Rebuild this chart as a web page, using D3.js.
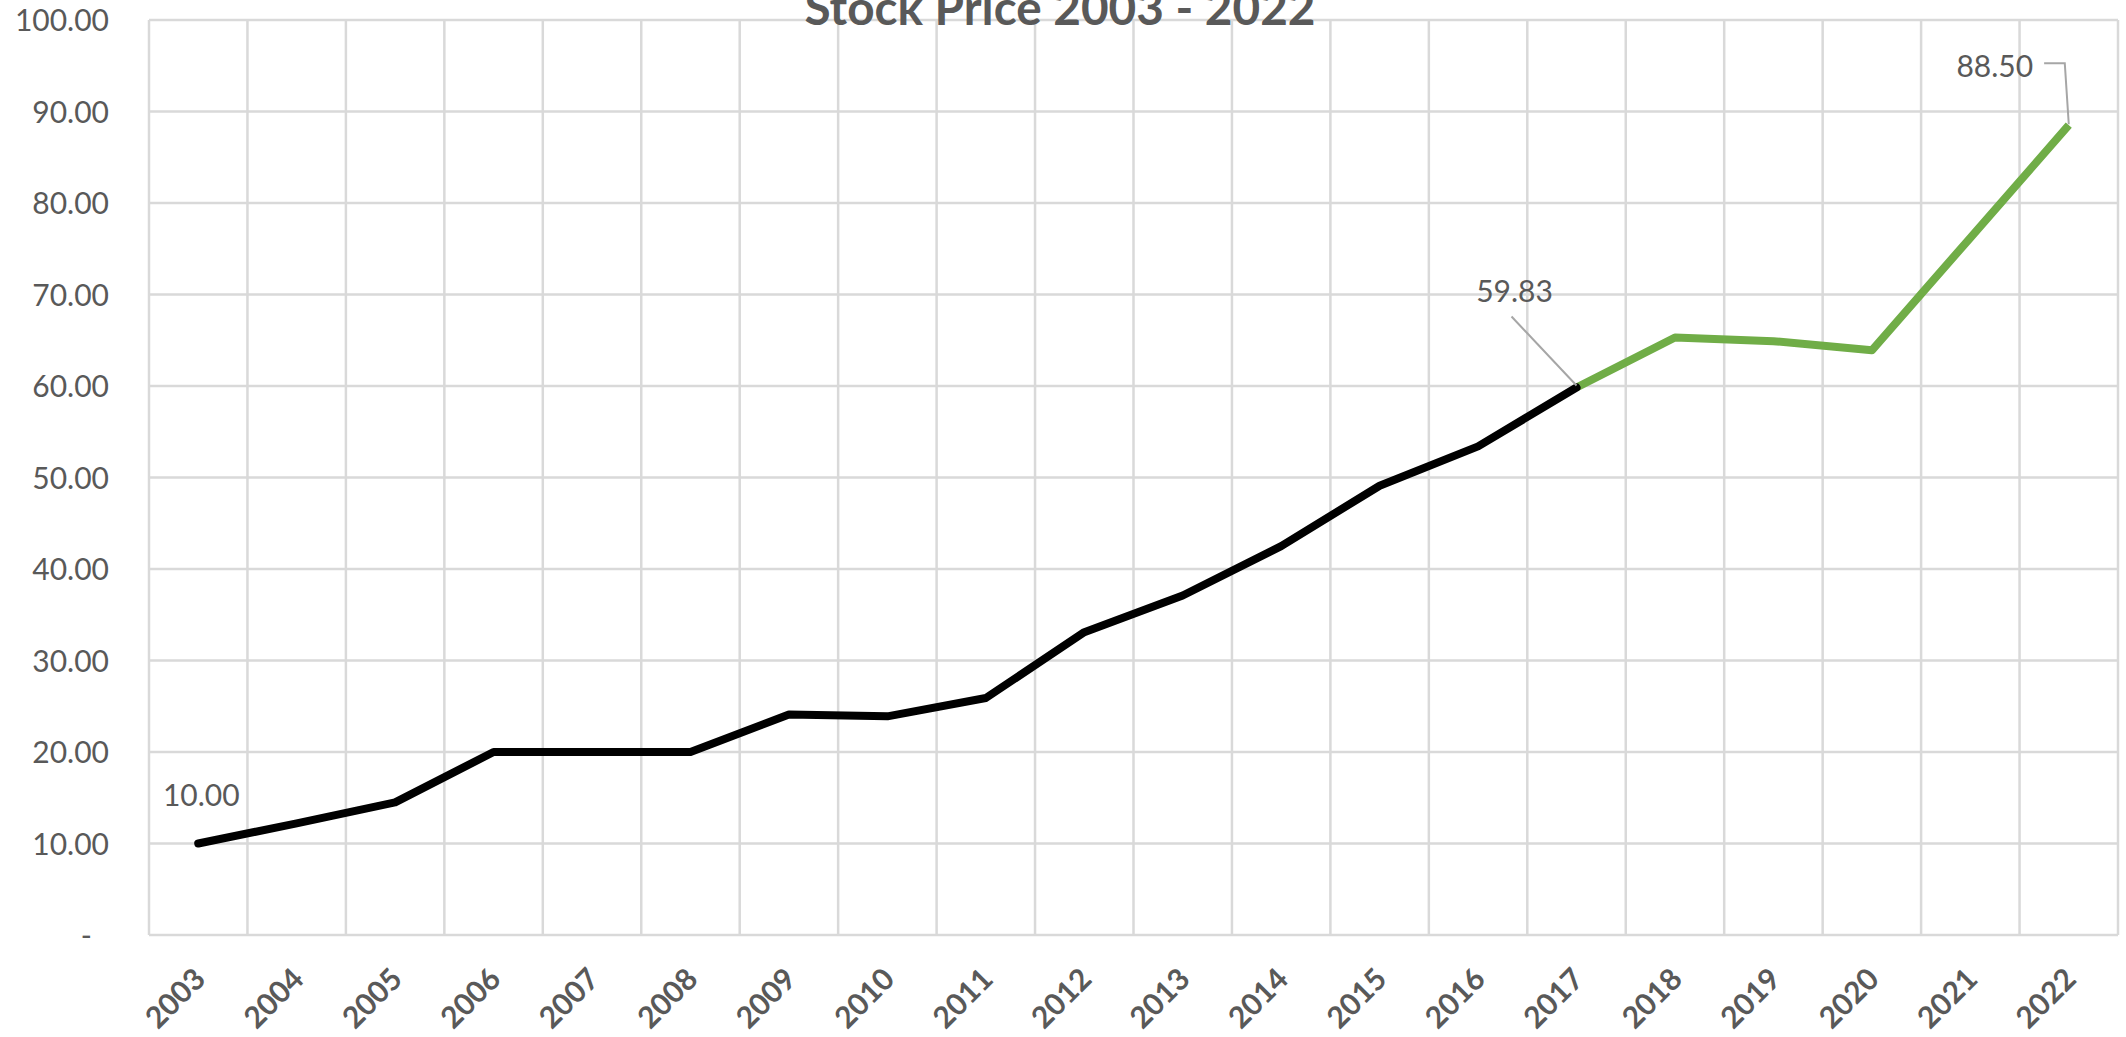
<!DOCTYPE html>
<html>
<head>
<meta charset="utf-8">
<script src="https://cdn.jsdelivr.net/npm/d3@7"></script>
<style>
  html, body { margin: 0; padding: 0; background: #ffffff; overflow: hidden; }
  svg { display: block; }
</style>
</head>
<body>
<svg id="chart" width="2126" height="1037"></svg>
<script>
// ---------------- data ----------------
const years  = [2003, 2004, 2005, 2006, 2007, 2008, 2009, 2010, 2011, 2012,
                2013, 2014, 2015, 2016, 2017, 2018, 2019, 2020, 2021, 2022];
const prices = [10.00, 12.2, 14.5, 20.0, 20.0, 20.0, 24.1, 23.9, 25.9, 33.1,
                37.1, 42.5, 49.1, 53.4, 59.83, 65.3, 64.9, 63.9, 76.2, 88.50];
const yTicks = [0, 10, 20, 30, 40, 50, 60, 70, 80, 90, 100];
const splitYear = 2017;               // black up to here, green afterwards
const labeledYears = [2003, 2017, 2022];
const chartTitle = "Stock Price 2003 - 2022";

// ---------------- layout / style ----------------
const W = 2126, H = 1037;
const plot = { left: 149, right: 2118, top: 20, bottom: 935 };
const gridColor = "#d9d9d9";
const textColor = "#595959";
const fontFamily = "Lato, 'Open Sans', sans-serif";
const labelOffsets = {            // data label position relative to point
  2003: { dx: 3,   dy: -37.5, leader: null },
  2017: { dx: -62, dy: -86,   leader: "diag" },
  2022: { dx: -74, dy: -48,   leader: "elbow" }
};

const svg = d3.select("#chart");
svg.append("rect").attr("width", W).attr("height", H).attr("fill", "#fff");

const x = d3.scaleBand().domain(years).range([plot.left, plot.right]).padding(0);
const y = d3.scaleLinear().domain([0, 100]).range([plot.bottom, plot.top]);
const cx = d => x(d) + x.bandwidth() / 2;

// ---------------- grid ----------------
const grid = svg.append("g");
grid.selectAll("line.h").data(yTicks).join("line")
  .attr("x1", plot.left).attr("x2", plot.right)
  .attr("y1", d => y(d)).attr("y2", d => y(d))
  .attr("stroke", gridColor).attr("stroke-width", 2.5);
const boundaries = years.map(d => x(d)).concat([x.range()[1]]);
grid.selectAll("line.v").data(boundaries).join("line")
  .attr("x1", d => d).attr("x2", d => d)
  .attr("y1", y(100)).attr("y2", y(0))
  .attr("stroke", gridColor).attr("stroke-width", 2.5);

// ---------------- y axis labels ----------------
const yAxis = svg.append("g")
  .attr("transform", `translate(${plot.left},0)`)
  .call(d3.axisLeft(y).tickValues(yTicks).tickSize(0).tickPadding(40)
        .tickFormat(d => d === 0 ? "-" : d3.format(".2f")(d)));
yAxis.select(".domain").remove();
yAxis.selectAll("text")
  .attr("fill", textColor)
  .style("font-family", fontFamily)
  .style("font-size", "30px")
  .attr("dy", "0.36em")
  .attr("dx", d => d === 0 ? -17 : 0);

// ---------------- x axis labels ----------------
const xAxis = svg.append("g")
  .attr("transform", `translate(0,${plot.bottom})`)
  .call(d3.axisBottom(x).tickSize(0).tickFormat(d => String(d)));
xAxis.select(".domain").remove();
xAxis.selectAll(".tick").attr("transform", null);
xAxis.selectAll(".tick text")
  .attr("fill", textColor)
  .style("font-family", fontFamily)
  .style("font-size", "30px")
  .style("font-weight", "bold")
  .attr("y", null).attr("dy", null)
  .attr("text-anchor", "end")
  .attr("transform", d => `translate(${cx(d) + 9},46) rotate(-45)`);

// ---------------- line ----------------
const pts = years.map((d, i) => ({ year: d, value: prices[i] }));
const line = d3.line().x(d => cx(d.year)).y(d => y(d.value));
const past = pts.filter(d => d.year <= splitYear);
const future = pts.filter(d => d.year >= splitYear);
svg.append("path").datum(future).attr("d", line)
  .attr("fill", "none").attr("stroke", "#70ad47").attr("stroke-width", 8)
  .attr("stroke-linejoin", "round").attr("stroke-linecap", "butt");
svg.append("path").datum(past).attr("d", line)
  .attr("fill", "none").attr("stroke", "#000000").attr("stroke-width", 8)
  .attr("stroke-linejoin", "round").attr("stroke-linecap", "round");

// ---------------- data labels ----------------
const lab = svg.append("g");
labeledYears.forEach(yr => {
  const p = pts.find(d => d.year === yr);
  const o = labelOffsets[yr];
  const px = cx(yr), py = y(p.value);
  const tx = px + o.dx, ty = py + o.dy;
  const t = lab.append("text")
    .attr("x", tx).attr("y", ty)
    .attr("text-anchor", "middle")
    .attr("fill", textColor)
    .style("font-family", fontFamily)
    .style("font-size", "30px")
    .text(d3.format(".2f")(p.value));
  const w = t.node().getComputedTextLength();
  if (o.leader === "diag") {
    lab.append("line")
      .attr("x1", tx - 3).attr("y1", ty + 15)
      .attr("x2", px).attr("y2", py - 2)
      .attr("stroke", "#a6a6a6").attr("stroke-width", 2);
  } else if (o.leader === "elbow") {
    const sx = tx + w / 2 + 11, sy = ty - 14;
    lab.append("path")
      .attr("d", `M${sx},${sy}H${px - 4}L${px},${py - 1}`)
      .attr("fill", "none")
      .attr("stroke", "#a6a6a6").attr("stroke-width", 2);
  }
});

// ---------------- title ----------------
const title = svg.append("text")
  .attr("x", 1060).attr("y", 25)
  .attr("text-anchor", "middle")
  .attr("fill", textColor)
  .style("font-family", fontFamily)
  .style("font-weight", "bold")
  .style("font-size", "46px")
  .text(chartTitle);
const tw = title.node().getComputedTextLength();
title.style("font-size", (46 * 511 / tw).toFixed(1) + "px");
</script>
</body>
</html>
